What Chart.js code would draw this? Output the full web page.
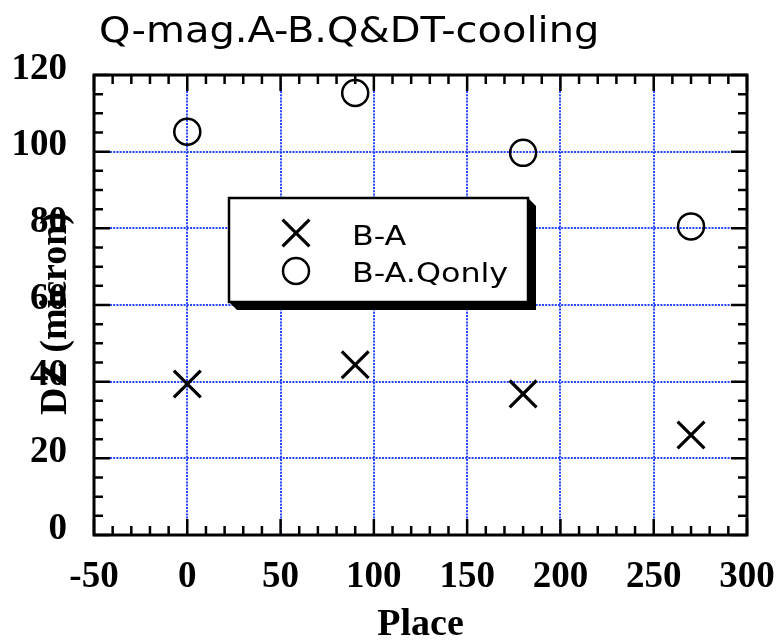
<!DOCTYPE html>
<html><head><meta charset="utf-8">
<script src="https://cdn.jsdelivr.net/npm/chart.js@4"></script>
<style>html,body{margin:0;padding:0;background:#fff}#wrap{width:777px;height:644px;position:relative}</style>
</head><body><div id="wrap"><canvas id="c" width="777" height="644"></canvas></div>
<script>
const chartTitle = 'Q-mag.A-B.Q&DT-cooling';
const xAxisTitle = 'Place';
const yAxisTitle = 'DZ (micron)';
const seriesNames = ['B-A', 'B-A.Qonly'];
const places = [0, 90, 180, 270];
const seriesBA = [39.4, 44.4, 36.8, 26.1];
const seriesQonly = [105.2, 115.3, 99.7, 80.5];
const xTickValues = [-50, 0, 50, 100, 150, 200, 250, 300];
const yTickValues = [0, 20, 40, 60, 80, 100, 120];
const xMinorStep = 10;
const yMinorStep = 5;

const GRID_BLUE = 'rgba(30,60,255,0.95)';
const tickFont = {family: 'Liberation Serif', weight: 'bold', size: 37};
const xTitleFont = {family: 'Liberation Serif', weight: 'bold', size: 38, lineHeight: 1};
const yTitleFont = {family: 'Liberation Serif', weight: 'bold', size: 38};

Chart.defaults.color = '#000';

function gridColor(ctx) {
  const n = ctx.scale.ticks.length;
  return (ctx.index === 0 || ctx.index === n - 1) ? 'rgba(0,0,0,0)' : GRID_BLUE;
}

const frameTicks = {
  id: 'frameTicks',
  beforeDatasetsDraw(chart) {
    const {ctx, chartArea: a, scales: {x, y}} = chart;
    ctx.save();
    ctx.strokeStyle = '#000';
    ctx.lineWidth = 2.5;
    ctx.beginPath();
    for (let v = x.min; v <= x.max + 1e-9; v += xMinorStep) {
      const px = x.getPixelForValue(v);
      const len = xTickValues.includes(v) ? 16 : 9;
      ctx.moveTo(px, a.bottom); ctx.lineTo(px, a.bottom - len);
      ctx.moveTo(px, a.top); ctx.lineTo(px, a.top + len);
    }
    for (let v = y.min; v <= y.max + 1e-9; v += yMinorStep) {
      const py = y.getPixelForValue(v);
      const len = yTickValues.includes(v) ? 16 : 9;
      ctx.moveTo(a.left, py); ctx.lineTo(a.left + len, py);
      ctx.moveTo(a.right, py); ctx.lineTo(a.right - len, py);
    }
    ctx.stroke();
    ctx.lineWidth = 3;
    ctx.strokeRect(a.left, a.top, a.right - a.left, a.bottom - a.top);
    ctx.restore();
  }
};

const textTweaks = {
  id: 'textTweaks',
  beforeDraw(chart) {
    const tb = chart.titleBlock;
    if (tb && !tb._spaced) {
      const orig = tb.draw.bind(tb);
      tb.draw = function(area) {
        const c = chart.ctx;
        const a = chart.chartArea;
        c.save();
        c.translate(a.left + 5, 0);
        c.scale(1.11, 1);
        c.translate(-a.left, 0);
        orig(area);
        c.restore();
      };
      tb._spaced = true;
    }
    const ys = chart.scales.y;
    if (ys && !ys._shifted) {
      const origT = ys.drawTitle.bind(ys);
      ys.drawTitle = function() {
        const c = chart.ctx;
        c.save();
        c.translate(0, 8.5);
        origT();
        c.restore();
      };
      ys._shifted = true;
    }
  }
};

const boxLegend = {
  id: 'boxLegend',
  afterDatasetsDraw(chart) {
    const ctx = chart.ctx;
    const L = 229, T = 198, R = 528, B = 302, S = 8;
    ctx.save();
    ctx.fillStyle = '#000';
    ctx.beginPath();
    ctx.moveTo(R, T); ctx.lineTo(R + S, T + S); ctx.lineTo(R + S, B + S);
    ctx.lineTo(L + S, B + S); ctx.lineTo(L, B); ctx.closePath();
    ctx.fill();
    ctx.fillStyle = '#fff';
    ctx.fillRect(L, T, R - L, B - T);
    ctx.strokeStyle = '#000';
    ctx.lineWidth = 2.5;
    ctx.strokeRect(L, T, R - L, B - T);
    const rows = [{my: 233, ty: 245}, {my: 271, ty: 282}];
    chart.data.datasets.forEach((ds, i) => {
      const mx = 296, my = rows[i].my;
      ctx.strokeStyle = '#000';
      ctx.lineWidth = ds.borderWidth;
      ctx.beginPath();
      if (ds.pointStyle === 'crossRot') {
        const h = ds.pointRadius * Math.SQRT1_2;
        ctx.moveTo(mx - h, my - h); ctx.lineTo(mx + h, my + h);
        ctx.moveTo(mx + h, my - h); ctx.lineTo(mx - h, my + h);
      } else {
        ctx.arc(mx, my, ds.pointRadius, 0, Math.PI * 2);
      }
      ctx.stroke();
      ctx.save();
      ctx.fillStyle = '#000';
      ctx.font = '26.5px "DejaVu Sans"';
      ctx.textAlign = 'left';
      ctx.textBaseline = 'alphabetic';
      ctx.translate(352, rows[i].ty);
      ctx.scale(1.2, 1);
      ctx.fillText(ds.label, 0, 0);
      ctx.restore();
    });
    ctx.restore();
  }
};

new Chart(document.getElementById('c'), {
  type: 'scatter',
  data: {
    datasets: [
      {
        label: seriesNames[0],
        data: places.map((p, i) => ({x: p, y: seriesBA[i]})),
        pointStyle: 'crossRot', pointRadius: 19, pointHoverRadius: 19,
        borderColor: '#000', backgroundColor: 'rgba(0,0,0,0)', borderWidth: 3.2, showLine: false
      },
      {
        label: seriesNames[1],
        data: places.map((p, i) => ({x: p, y: seriesQonly[i]})),
        pointStyle: 'circle', pointRadius: 13, pointHoverRadius: 13,
        borderColor: '#000', backgroundColor: 'rgba(0,0,0,0)', borderWidth: 2.5, showLine: false
      }
    ]
  },
  options: {
    responsive: false,
    animation: false,
    events: [],
    layout: {padding: {left: 0, right: 30, top: 0, bottom: 0}},
    plugins: {
      legend: {display: false},
      tooltip: {enabled: false},
      title: {
        display: true, text: chartTitle, fullSize: false, align: 'start',
        color: '#000', font: {family: 'DejaVu Sans', size: 36, weight: 'normal'},
        padding: {top: 11.5, bottom: 20.3}
      }
    },
    scales: {
      x: {
        type: 'linear', min: -50, max: 300,
        afterBuildTicks: s => { s.ticks = xTickValues.map(v => ({value: v})); },
        afterFit: s => { s.height = 109; s.paddingLeft = 0; s.paddingRight = 0; },
        ticks: {font: tickFont, color: '#000', padding: 20, maxRotation: 0, autoSkip: false},
        grid: {color: gridColor, lineWidth: 2, drawTicks: false, tickLength: 0},
        border: {display: false, dash: [2, 1.2]},
        title: {display: true, text: xAxisTitle, font: xTitleFont, color: '#000', padding: {top: 0, bottom: 0}}
      },
      y: {
        type: 'linear', min: 0, max: 120,
        afterBuildTicks: s => { s.ticks = yTickValues.map(v => ({value: v})); },
        afterFit: s => { s.width = 94; s.paddingTop = 0; s.paddingBottom = 0; },
        ticks: {font: tickFont, color: '#000', padding: 27, labelOffset: -6, autoSkip: false},
        grid: {color: gridColor, lineWidth: 2, drawTicks: false, tickLength: 0},
        border: {display: false, dash: [2, 1.2]},
        title: {display: true, text: yAxisTitle, font: yTitleFont, color: '#000', padding: {top: 33, bottom: 0}}
      }
    }
  },
  plugins: [frameTicks, textTweaks, boxLegend]
});
</script>
</body></html>
